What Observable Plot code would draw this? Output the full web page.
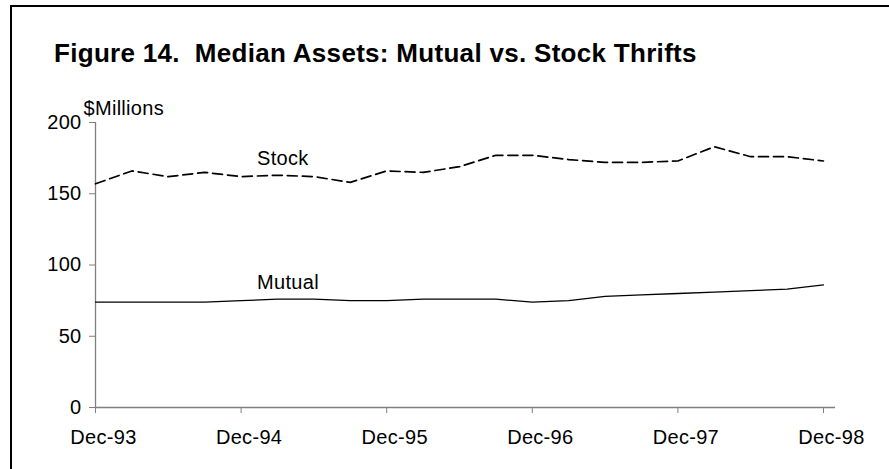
<!DOCTYPE html>
<html><head><meta charset="utf-8">
<script src="https://cdn.jsdelivr.net/npm/d3@7"></script>
<script src="https://cdn.jsdelivr.net/npm/@observablehq/plot@0.6"></script>
<style>
html,body{margin:0;padding:0;background:#fff;}
#wrap{position:relative;width:889px;height:469px;overflow:hidden;font-family:"Liberation Sans",Arial,sans-serif;}
#frame{position:absolute;left:10px;top:5px;right:-5px;bottom:-5px;border-top:2px solid #000;border-left:2px solid #000;}
#title{position:absolute;left:54px;top:40px;font-size:26px;line-height:26px;font-weight:bold;letter-spacing:0.3px;white-space:pre;color:#000;}
#chart{position:absolute;left:0;top:0;}
#chart svg text{letter-spacing:0.3px;}
</style></head><body>
<div id="wrap"><div id="frame"></div><div id="title">Figure 14.  Median Assets: Mutual vs. Stock Thrifts</div><div id="chart"></div></div>
<script>
const quarters = ["Dec-93","Mar-94","Jun-94","Sep-94","Dec-94","Mar-95","Jun-95","Sep-95","Dec-95","Mar-96","Jun-96","Sep-96","Dec-96","Mar-97","Jun-97","Sep-97","Dec-97","Mar-98","Jun-98","Sep-98","Dec-98"];
const stock = [157,166,162,165,162,163,162,158,166,165,169,177,177,174,172,172,173,183,176,176,173];
const mutual = [74,74,74,74,75,76,76,75,75,76,76,76,74,75,78,79,80,81,82,83,86];
const tickLabels = ["Dec-93","Dec-94","Dec-95","Dec-96","Dec-97","Dec-98"];
const yTicks = [0,50,100,150,200];
const seriesNames = ["Stock","Mutual"];
const yUnit = "$Millions";

const rows = quarters.map((q,i)=>({i, q, stock: stock[i], mutual: mutual[i]}));
const tickIdx = tickLabels.map(t => quarters.indexOf(t));
const labelAt = quarters.indexOf("Dec-94");
const labels = [
  {i: labelAt, v: stock[labelAt], t: seriesNames[0]},
  {i: labelAt, v: mutual[labelAt], t: seriesNames[1]}
];
const axisGray = "#808080";
const fs = 20;

const chart = Plot.plot({
  width: 889, height: 469,
  marginLeft: 95, marginRight: 54, marginTop: 122, marginBottom: 62,
  style: {fontFamily: '"Liberation Sans", Arial, sans-serif', fontSize: fs + "px", color: "#000", background: "transparent", overflow: "visible"},
  x: {type: "linear", domain: [0, 20.33]},
  y: {domain: [0, 200]},
  marks: [
    Plot.ruleY([0], {stroke: axisGray, strokeWidth: 1.3}),
    Plot.ruleX([0], {y1: 0, y2: 200, stroke: axisGray, strokeWidth: 1.3}),
    Plot.axisX({ticks: tickIdx, tickSize: 6, tickFormat: () => "", stroke: axisGray, label: null}),
    Plot.axisX({ticks: tickIdx, tickSize: 0, tickPadding: 22, tickFormat: i => quarters[i], fill: "#000", dx: 8, label: null, fontSize: fs}),
    Plot.axisY({ticks: yTicks, tickSize: 6, tickPadding: 8, stroke: axisGray, fill: "#000", label: null, fontSize: fs}),
    Plot.lineY(rows, {x: "i", y: "mutual", stroke: "#000", strokeWidth: 1.3}),
    Plot.lineY(rows, {x: "i", y: "stock", stroke: "#000", strokeWidth: 1.7, strokeDasharray: "10,5"}),
    Plot.text(labels, {x: "i", y: "v", text: "t", textAnchor: "start", lineAnchor: "bottom", dx: 16, dy: -12, fontSize: fs, fill: "#000"}),
    Plot.text([yUnit], {frameAnchor: "top-left", textAnchor: "start", lineAnchor: "bottom", dx: -12, dy: -8, fontSize: fs, fill: "#000"})
  ]
});
document.getElementById("chart").appendChild(chart);
</script>
</body></html>
